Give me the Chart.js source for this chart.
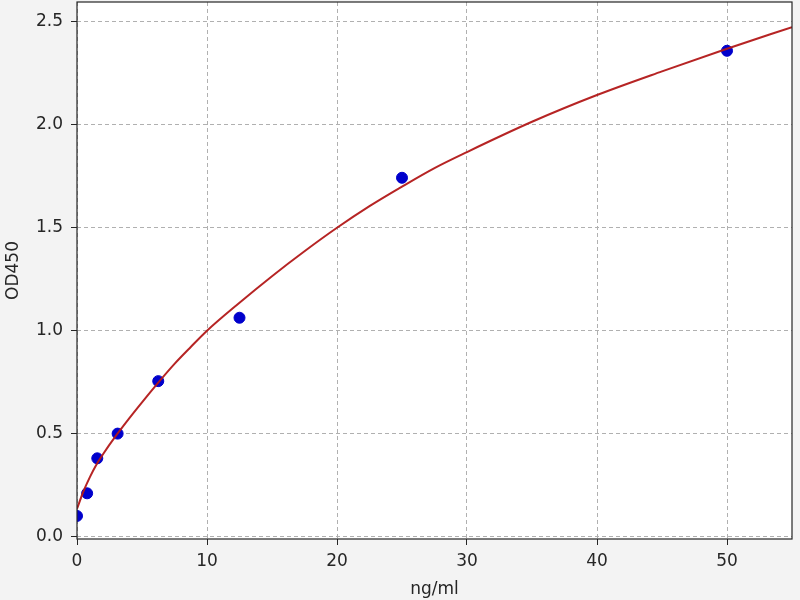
<!DOCTYPE html>
<html>
<head>
<meta charset="utf-8">
<script src="https://cdn.jsdelivr.net/npm/chart.js@4/dist/chart.umd.min.js"></script>
<style>
html,body{margin:0;padding:0;background:#f3f3f3;}
#wrap{width:800px;height:600px;}
</style>
</head>
<body>
<div id="wrap"><canvas id="c" width="800" height="600"></canvas></div>
<script>
// Standard points
const stdConc = [0, 0.78, 1.56, 3.125, 6.25, 12.5, 25, 50];
const stdOD   = [0.10, 0.21, 0.38, 0.50, 0.755, 1.063, 1.743, 2.36];
// Fitted curve
const curveX = [0, 0.5, 1, 1.5, 2, 3, 4, 5, 6.25, 7.5, 8.75, 10, 12.5, 15, 17.5, 20, 22.5, 25, 27.5, 30, 35, 40, 45, 50, 55];
const curveY = [0.135, 0.22, 0.29, 0.35, 0.40, 0.49, 0.573, 0.652, 0.748, 0.839, 0.921, 1.0, 1.136, 1.265, 1.386, 1.50, 1.605, 1.70, 1.79, 1.868, 2.015, 2.145, 2.26, 2.37, 2.475];
// Ticks
const xTicks = [0, 10, 20, 30, 40, 50];
const yTicks = [0.0, 0.5, 1.0, 1.5, 2.0, 2.5];
const xLabel = 'ng/ml';
const yLabel = 'OD450';

const FONT = 'DejaVu Sans';

const plotBg = {
  id: 'plotBg',
  beforeDraw(chart) {
    const {ctx, chartArea: a} = chart;
    ctx.save();
    ctx.fillStyle = '#f3f3f3';
    ctx.fillRect(0, 0, chart.width, chart.height);
    ctx.fillStyle = '#ffffff';
    ctx.fillRect(a.left, a.top, a.right - a.left, a.bottom - a.top);
    ctx.restore();
  },
  afterDraw(chart) {
    const {ctx, chartArea: a} = chart;
    ctx.save();
    ctx.strokeStyle = '#262626';
    ctx.lineWidth = 1.2;
    ctx.strokeRect(a.left, a.top, a.right - a.left, a.bottom - a.top);
    ctx.restore();
  }
};

function noPad(s) {
  s.paddingTop = 0; s.paddingBottom = 0; s.paddingLeft = 0; s.paddingRight = 0;
}

new Chart(document.getElementById('c'), {
  type: 'scatter',
  data: {
    datasets: [
      {
        type: 'line',
        data: curveX.map((x, i) => ({x, y: curveY[i]})),
        borderColor: 'rgba(178,24,24,0.95)',
        borderWidth: 2,
        pointRadius: 0,
        cubicInterpolationMode: 'monotone',
        fill: false,
        order: 1
      },
      {
        data: stdConc.map((x, i) => ({x, y: stdOD[i]})),
        backgroundColor: '#0000cc',
        borderColor: '#0000cc',
        pointRadius: 5.5,
        order: 2
      }
    ]
  },
  plugins: [plotBg],
  options: {
    responsive: false,
    animation: false,
    devicePixelRatio: 1,
    layout: {autoPadding: false, padding: {top: 2, right: 8, left: 0, bottom: 0}},
    plugins: {legend: {display: false}, tooltip: {enabled: false}},
    scales: {
      x: {
        type: 'linear',
        min: 0, max: 55,
        afterBuildTicks(s) { s.ticks = xTicks.map(v => ({value: v})); },
        afterFit(s) { s.height = 61; noPad(s); },
        grid: {
          color: '#b0b0b0', lineWidth: 1,
          tickBorderDash: [], tickColor: '#262626',
          tickLength: 6, drawTicks: true
        },
        border: {display: false, dash: [4, 3]},
        ticks: {color: '#262626', font: {family: FONT, size: 17}, padding: 6, maxRotation: 0,
                callback: v => String(v)},
        title: {display: true, text: xLabel, color: '#262626', font: {family: FONT, size: 17}, padding: {top: 0, bottom: 0}}
      },
      y: {
        type: 'linear',
        min: -0.012, max: 2.597,
        afterBuildTicks(s) { s.ticks = yTicks.map(v => ({value: v})); },
        afterFit(s) { s.width = 77; noPad(s); },
        grid: {
          color: '#b0b0b0', lineWidth: 1,
          tickBorderDash: [], tickColor: '#262626',
          tickLength: 6, drawTicks: true
        },
        border: {display: false, dash: [4, 3]},
        ticks: {color: '#262626', font: {family: FONT, size: 17}, padding: 8,
                callback: v => v.toFixed(1)},
        title: {display: true, text: yLabel, color: '#262626', font: {family: FONT, size: 17}, padding: {top: 3, bottom: 0}}
      }
    }
  }
});
</script>
</body>
</html>
